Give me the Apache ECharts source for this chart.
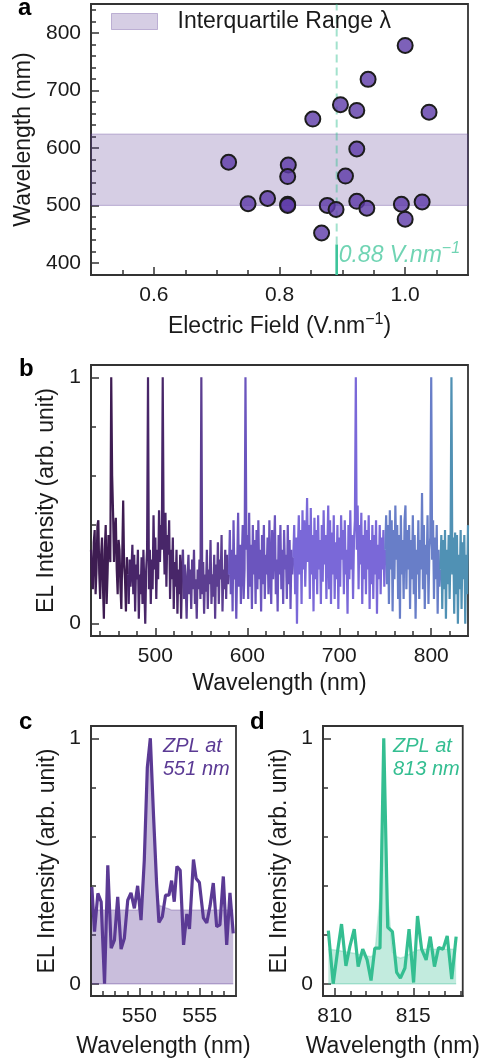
<!DOCTYPE html>
<html>
<head>
<meta charset="utf-8">
<script src="https://cdn.jsdelivr.net/npm/echarts@6/dist/echarts.min.js"></script>
<style>
html,body{margin:0;padding:0;background:#fff;}
#chart{width:482px;height:1061px;}
</style>
</head>
<body>
<div id="chart"></div>
<script>
// ---------- Panel a: field vs ZPL wavelength ----------
const fieldValues = [0.719, 0.750, 0.781, 0.814, 0.813, 0.813, 0.813, 0.853, 0.867, 0.876, 0.890, 0.897, 0.923, 0.923, 0.905, 0.923, 0.939, 0.941, 1.000, 1.038, 0.994, 1.000, 1.027];
const zplWavelengths = [575, 503, 512, 570, 550, 502, 500, 650, 452, 500, 493, 675, 665, 598, 551, 507, 495, 719, 778, 662, 502, 476, 506];
const iqrLow = 500, iqrHigh = 624;
const thresholdField = 0.891;
const thresholdText = '0.88';
const aXRange = [0.5, 1.1], aYRange = [379, 850];
const aSolidTop = 432, aLabelY = 413;
const aXLabels = [0.6, 0.8, 1.0];
const aXMinor = [0.55, 0.65, 0.7, 0.75, 0.85, 0.9, 0.95, 1.05];
const aYLabels = [400, 500, 600, 700, 800];
const aYMinor = [420, 440, 460, 480, 520, 540, 560, 580, 620, 640, 660, 680, 720, 740, 760, 780, 820, 840];

// ---------- Panel b: full EL spectrum (1 nm sampling), coloured wavelength bins ----------
const bStep = 1;
const bSegStart = [430, 470, 530, 580, 650, 750, 810];
const bSegColors = ['#3e1c52', '#482669', '#5c3e91', '#6b55be', '#7a68d8', '#687ec8', '#5091b4'];
const bSeg1 = [0.30,0.18,0.14,0.33,0.38,0.12,0.22,0.40,0.42,0.20, 0.10,0.28,0.35,0.15,0.02,0.30,0.40,0.08,0.20,0.36, 0.33,0.25,1.00,0.60,0.45,0.25,0.38,0.43,0.22,0.12, 0.34,0.30,0.15,0.06,0.28,0.50,0.24,0.18,0.05,0.27, 0.20];
const bSeg2 = [0.20,0.08,0.26,0.15,0.22,0.32,0.12,0.28,0.05,0.24, 0.18,0.30,0.02,0.20,0.12,0.27,0.08,0.30,0.15,0.00, 0.22,0.30,1.00,0.14,0.30,0.08,0.26,0.14,0.44,0.22, 0.35,0.10,0.30,0.18,0.46,0.25,0.40,0.30,1.00,0.38, 0.20,0.45,0.15,0.36,0.28,0.42,0.10,0.30,0.18,0.35, 0.06,0.25,0.15,0.30,0.04,0.22,0.12,0.28,0.02,0.20, 0.30];
const bSeg3 = [0.30,0.10,0.24,0.16,0.02,0.20,0.28,0.12,0.22,0.06, 0.26,0.14,0.30,0.08,0.18,0.02,0.22,0.14,0.26,0.10, 1.00,0.12,0.25,0.04,0.20,0.13,0.30,0.06,0.22,0.16, 0.34,0.08,0.20,0.11,0.28,0.02,0.24,0.15,0.33,0.08, 0.26,0.18,0.36,0.05,0.22,0.14,0.30,0.10,0.28,0.16, 0.20];
const bSeg4 = [0.20,0.38,0.12,0.30,0.05,0.42,0.18,0.28,0.02,0.24, 0.45,0.15,0.32,0.08,0.26,0.40,0.10,0.22,1.00,0.30, 0.36,0.10,0.45,0.15,0.32,0.06,0.40,0.20,0.34,0.08, 0.38,0.14,0.42,0.18,0.30,0.05,0.36,0.16,0.40,0.10, 0.28,0.20,0.35,0.12,0.42,0.22,0.08,0.38,0.18,0.30, 0.44,0.12,0.26,0.05,0.36,0.20,0.40,0.14,0.30,0.08, 0.38,0.22,0.28,0.10,0.40,0.16,0.34,0.06,0.30,0.20, 0.27];
const bSeg5 = [0.27,0.40,0.12,0.35,0.00,0.30,0.44,0.20,0.38,0.08, 0.46,0.22,0.42,0.15,0.32,0.51,0.25,0.40,0.10,0.47, 0.20,0.36,0.05,0.43,0.18,0.38,0.12,0.44,0.22,0.34, 0.08,0.40,0.17,0.46,0.24,0.36,0.10,0.30,0.48,0.14, 0.42,0.08,0.37,0.20,0.44,0.10,0.33,0.18,0.40,0.06, 0.35,0.15,0.44,0.26,0.38,0.12,0.42,0.20,0.30,0.04, 0.40,0.18,0.46,0.22,0.36,0.10,0.34,0.42,1.00,0.30, 0.48,0.14,0.40,0.24,0.45,0.08,0.36,0.18,0.42,0.12, 0.38,0.22,0.44,0.06,0.34,0.16,0.40,0.10,0.36,0.20, 0.42,0.04,0.32,0.18,0.40,0.12,0.35,0.22,0.38,0.15, 0.30];
const bSeg6 = [0.30,0.44,0.16,0.40,0.08,0.46,0.22,0.42,0.05,0.38, 0.18,0.48,0.26,0.40,0.10,0.36,0.02,0.44,0.20,0.34, 0.10,0.42,0.48,0.14,0.38,0.22,0.40,0.06,0.34,0.18, 0.44,0.12,0.36,0.02,0.30,0.20,0.42,0.10,0.34,0.22, 0.53,0.14,0.40,0.06,0.32,0.20,0.44,0.08,0.30,0.35, 1.00,0.26,0.42,0.10,0.35,0.18,0.40,0.04,0.30,0.15, 0.22];
const bSeg7 = [0.22,0.36,0.06,0.34,0.14,0.38,0.02,0.30,0.16,0.36, 0.10,0.30,1.00,0.20,0.35,0.04,0.37,0.12,0.36,0.00, 0.28,0.14,0.38,0.06,0.33,0.18,0.36,0.00,0.28,0.12, 0.40];
const bSegments = [bSeg1, bSeg2, bSeg3, bSeg4, bSeg5, bSeg6, bSeg7];
const bXRange = [430, 840];
const bXLabels = [500, 600, 700, 800];
const bXMinor = [440, 460, 480, 520, 540, 560, 580, 620, 640, 660, 680, 720, 740, 760, 780, 820];
const intRange = [-0.05, 1.05];
const intLabels = [0, 1];
const intMinor = [0.2, 0.4, 0.6, 0.8];

// ---------- Panel c: ZPL at 551 nm ----------
const cNm = [546.07, 546.29, 546.57, 546.84, 547.12, 547.39, 547.67, 547.94, 548.21, 548.49, 548.76, 549.04, 549.31, 549.59, 549.86, 550.14, 550.41, 550.66, 550.91, 551.18, 551.43, 551.62, 551.90, 552.17, 552.45, 552.67, 552.89, 553.11, 553.38, 553.66, 553.93, 554.15, 554.48, 554.70, 554.97, 555.30, 555.58, 555.85, 556.12, 556.40, 556.67, 556.95, 557.23, 557.50, 557.77];
const cInt = [0.394, 0.212, 0.368, 0.334, 0.0, 0.482, 0.145, 0.178, 0.354, 0.141, 0.185, 0.340, 0.370, 0.307, 0.399, 0.259, 0.503, 0.88, 1.0, 0.68, 0.408, 0.25, 0.273, 0.361, 0.361, 0.42, 0.334, 0.478, 0.462, 0.158, 0.284, 0.223, 0.506, 0.429, 0.412, 0.268, 0.248, 0.316, 0.41, 0.233, 0.24, 0.437, 0.158, 0.370, 0.205];
const cFit = [0.30, 0.30, 0.30, 0.30, 0.30, 0.30, 0.30, 0.30, 0.30, 0.30, 0.30, 0.30, 0.30, 0.30, 0.30, 0.32, 0.50, 0.86, 0.98, 0.66, 0.40, 0.32, 0.315, 0.31, 0.305, 0.30, 0.30, 0.30, 0.30, 0.30, 0.30, 0.30, 0.30, 0.30, 0.30, 0.30, 0.30, 0.30, 0.30, 0.30, 0.30, 0.30, 0.30, 0.30, 0.30];
const cXRange = [546, 558];
const cXLabels = [550, 555];
const cXMinor = [547, 548, 549, 551, 552, 553, 554, 556, 557];

// ---------- Panel d: ZPL at 813 nm ----------
const dNm = [809.59, 809.90, 810.16, 810.43, 810.71, 810.96, 811.24, 811.49, 811.78, 812.06, 812.31, 812.55, 812.88, 813.12, 813.37, 813.67, 813.94, 814.18, 814.47, 814.73, 815.02, 815.27, 815.53, 815.82, 816.08, 816.35, 816.61, 816.90, 817.16, 817.45, 817.73];
const dInt = [0.216, 0.0, 0.124, 0.243, 0.073, 0.151, 0.222, 0.070, 0.141, 0.097, 0.013, 0.145, 0.145, 1.0, 0.230, 0.212, 0.046, 0.023, 0.064, 0.222, 0.005, 0.276, 0.141, 0.097, 0.192, 0.070, 0.147, 0.141, 0.195, 0.019, 0.192];
const dFit = [0.140, 0.138, 0.136, 0.133, 0.130, 0.127, 0.124, 0.120, 0.117, 0.113, 0.110, 0.120, 0.35, 0.95, 0.35, 0.13, 0.110, 0.105, 0.110, 0.120, 0.130, 0.137, 0.140, 0.140, 0.140, 0.140, 0.140, 0.140, 0.140, 0.140, 0.140];
const dXRange = [809.25, 818.15];
const dXLabels = [810, 815];
const dXMinor = [811, 812, 813, 814, 816, 817, 818];

// ---------- styling ----------
const FONT = 'Liberation Sans';
const INK = '#1a1a1a';
const AX = '#333';
const PURPLE = '#5b3a94';
const TEAL = '#34be91';
const TICK_FS = 21, NAME_FS = 23;

const pairs = (xs, ys) => xs.map((x, i) => [x, ys[i]]);

function mainAxis(grid, pos, range, labels, labelFmt, extra) {
  return Object.assign({
    type: 'value', gridIndex: grid, position: pos, min: range[0], max: range[1],
    axisLine: { show: true, onZero: false, lineStyle: { color: AX, width: 1.8 } },
    axisTick: { show: true, inside: true, length: 8, customValues: labels, lineStyle: { color: AX, width: 1.5 } },
    axisLabel: { show: true, customValues: labels, formatter: labelFmt, color: INK, fontSize: TICK_FS, fontFamily: FONT, margin: 10 },
    splitLine: { show: false },
    nameLocation: 'middle'
  }, extra || {});
}
function minorAxis(grid, pos, range, minors) {
  return {
    type: 'value', gridIndex: grid, position: pos, min: range[0], max: range[1],
    axisLine: { show: false, onZero: false },
    axisTick: { show: true, inside: true, length: 5, customValues: minors, lineStyle: { color: AX, width: 1.5 } },
    axisLabel: { show: false }, splitLine: { show: false }
  };
}
const nameStyle = () => ({
  color: INK, fontSize: NAME_FS, fontFamily: FONT,
  rich: {
    t: { fontSize: NAME_FS, fontFamily: FONT, color: INK, lineHeight: 29 },
    s: { fontSize: 16, fontFamily: FONT, color: INK, lineHeight: 16, verticalAlign: 'top' }
  }
});

const fmt1 = v => v.toFixed(1);
const fmt0 = v => String(Math.round(v));

const gridBox = { show: true, borderColor: AX, borderWidth: 1.8, backgroundColor: 'transparent', containLabel: false };

const xAxes = [
  mainAxis(0, 'bottom', aXRange, aXLabels, fmt1, { name: '{t|Electric Field (V.nm}{s|−1}{t|)}', nameGap: 37, nameTextStyle: nameStyle() }),
  minorAxis(0, 'bottom', aXRange, aXMinor),
  mainAxis(1, 'bottom', bXRange, bXLabels, fmt0, { name: 'Wavelength (nm)', nameGap: 36, nameTextStyle: nameStyle() }),
  minorAxis(1, 'bottom', bXRange, bXMinor),
  mainAxis(2, 'bottom', cXRange, cXLabels, fmt0, { name: 'Wavelength (nm)', nameGap: 39, nameTextStyle: nameStyle() }),
  minorAxis(2, 'bottom', cXRange, cXMinor),
  mainAxis(3, 'bottom', dXRange, dXLabels, fmt0, { name: 'Wavelength (nm)', nameGap: 39, nameTextStyle: nameStyle() }),
  minorAxis(3, 'bottom', dXRange, dXMinor)
];
const yAxes = [
  mainAxis(0, 'left', aYRange, aYLabels, fmt0, { name: 'Wavelength (nm)', nameGap: 56, nameTextStyle: nameStyle() }),
  minorAxis(0, 'left', aYRange, aYMinor),
  mainAxis(1, 'left', intRange, intLabels, fmt0, { name: 'EL Intensity (arb. unit)', nameGap: 32, nameTextStyle: nameStyle() }),
  minorAxis(1, 'left', intRange, intMinor),
  mainAxis(2, 'left', intRange, intLabels, fmt0, { name: 'EL Intensity (arb. unit)', nameGap: 32, nameTextStyle: nameStyle() }),
  minorAxis(2, 'left', intRange, intMinor),
  mainAxis(3, 'left', intRange, intLabels, fmt0, { name: 'EL Intensity (arb. unit)', nameGap: 32, nameTextStyle: nameStyle() }),
  minorAxis(3, 'left', intRange, intMinor)
];

const series = [];
const bandName = 'Interquartile Range λ';
const bandFill = 'rgba(91,58,148,0.25)', bandEdge = 'rgba(91,58,148,0.32)';
// panel a band
series.push({
  type: 'line', name: bandName, xAxisIndex: 0, yAxisIndex: 0, data: [],
  markArea: { silent: true, itemStyle: { color: bandFill, borderColor: bandEdge, borderWidth: 1 },
    data: [[{ yAxis: iqrLow }, { yAxis: iqrHigh }]] }
});
// threshold lines
series.push({
  type: 'line', xAxisIndex: 0, yAxisIndex: 0, symbol: 'none', silent: true,
  data: [[thresholdField, aSolidTop], [thresholdField, aYRange[1]]],
  lineStyle: { color: 'rgba(52,190,145,0.45)', width: 2, type: [8, 5] }, z: 1
});
series.push({
  type: 'line', xAxisIndex: 0, yAxisIndex: 0, symbol: 'none', silent: true,
  data: [[thresholdField, aYRange[0]], [thresholdField, aSolidTop]],
  lineStyle: { color: '#3cc49a', width: 2.6 }, z: 3
});
// scatter
series.push({
  type: 'scatter', xAxisIndex: 0, yAxisIndex: 0, symbolSize: 15,
  data: pairs(fieldValues, zplWavelengths),
  itemStyle: { color: 'rgba(92,58,168,0.8)', opacity: 1, borderColor: '#1c1c1c', borderWidth: 2 }, z: 5
});
// threshold label
series.push({
  type: 'scatter', xAxisIndex: 0, yAxisIndex: 0, symbolSize: 0, silent: true,
  data: [[thresholdField, aLabelY]],
  label: { show: true, position: 'right', distance: 2,
    formatter: '{n|' + thresholdText + ' V.nm}{s|−1}',
    rich: {
      n: { fontSize: 23, fontStyle: 'italic', fontFamily: FONT, color: '#4cc9a0', lineHeight: 29 },
      s: { fontSize: 16, fontStyle: 'italic', fontFamily: FONT, color: '#4cc9a0', lineHeight: 16, verticalAlign: 'top' }
    } }
});
// panel b segments
bSegments.forEach((seg, k) => {
  const x0 = bSegStart[k];
  series.push({
    type: 'line', xAxisIndex: 2, yAxisIndex: 2, symbol: 'none', silent: true,
    data: seg.map((v, i) => [x0 + i * bStep, v]),
    lineStyle: { color: bSegColors[k], width: 2.2 }
  });
});
// panel c
series.push({
  type: 'line', xAxisIndex: 4, yAxisIndex: 4, symbol: 'none', silent: true,
  data: pairs(cNm, cFit),
  lineStyle: { color: 'rgba(91,58,148,0.25)', width: 1.5 },
  areaStyle: { color: 'rgba(91,58,148,0.33)', opacity: 1 }
});
series.push({
  type: 'line', xAxisIndex: 4, yAxisIndex: 4, symbol: 'none', silent: true,
  data: [[cNm[0], 0], [cNm[cNm.length - 1], 0]],
  lineStyle: { color: 'rgba(91,58,148,0.35)', width: 1.5 }
});
series.push({
  type: 'line', xAxisIndex: 4, yAxisIndex: 4, symbol: 'none', silent: true,
  data: pairs(cNm, cInt),
  lineStyle: { color: PURPLE, width: 3.2 }
});
// panel d
series.push({
  type: 'line', xAxisIndex: 6, yAxisIndex: 6, symbol: 'none', silent: true,
  data: pairs(dNm, dFit),
  lineStyle: { color: 'rgba(52,190,145,0.25)', width: 1.5 },
  areaStyle: { color: 'rgba(52,190,145,0.3)', opacity: 1 }
});
series.push({
  type: 'line', xAxisIndex: 6, yAxisIndex: 6, symbol: 'none', silent: true,
  data: [[dNm[0], 0], [dNm[dNm.length - 1], 0]],
  lineStyle: { color: 'rgba(52,190,145,0.35)', width: 1.5 }
});
series.push({
  type: 'line', xAxisIndex: 6, yAxisIndex: 6, symbol: 'none', silent: true,
  data: pairs(dNm, dInt),
  lineStyle: { color: TEAL, width: 3.2 }
});

const panelTitle = (txt, left, top) => ({ text: txt, left: left, top: top, padding: 0,
  textStyle: { fontSize: 24, fontWeight: 'bold', fontFamily: FONT, color: '#000' } });

const option = {
  animation: false,
  backgroundColor: '#fff',
  title: [panelTitle('a', 18, -4), panelTitle('b', 19, 357), panelTitle('c', 19, 710), panelTitle('d', 250, 710)],
  grid: [
    Object.assign({ left: 91, top: 4, width: 377, height: 271 }, gridBox),
    Object.assign({ left: 91, top: 365, width: 377, height: 271 }, gridBox),
    Object.assign({ left: 91, top: 726, width: 145, height: 270 }, gridBox),
    Object.assign({ left: 323, top: 726, width: 145, height: 270 }, gridBox)
  ],
  legend: {
    left: 111, top: 10, padding: 0, selectedMode: false,
    itemWidth: 46, itemHeight: 16,
    data: [{ name: bandName, icon: 'rect', itemStyle: { color: bandFill, borderColor: bandEdge, borderWidth: 1 } }],
    textStyle: { fontSize: 23, fontFamily: FONT, color: INK, padding: [0, 0, 0, 15] }
  },
  graphic: [
    { type: 'text', left: 163, top: 735, style: { text: 'ZPL at\n551 nm', font: 'italic 20px "Liberation Sans"', fill: PURPLE, lineHeight: 23 } },
    { type: 'text', left: 393, top: 735, style: { text: 'ZPL at\n813 nm', font: 'italic 20px "Liberation Sans"', fill: TEAL, lineHeight: 23 } }
  ],
  xAxis: xAxes,
  yAxis: yAxes,
  series: series
};

const chart = echarts.init(document.getElementById('chart'), null, { renderer: 'canvas' });
chart.setOption(option);
</script>
</body>
</html>
